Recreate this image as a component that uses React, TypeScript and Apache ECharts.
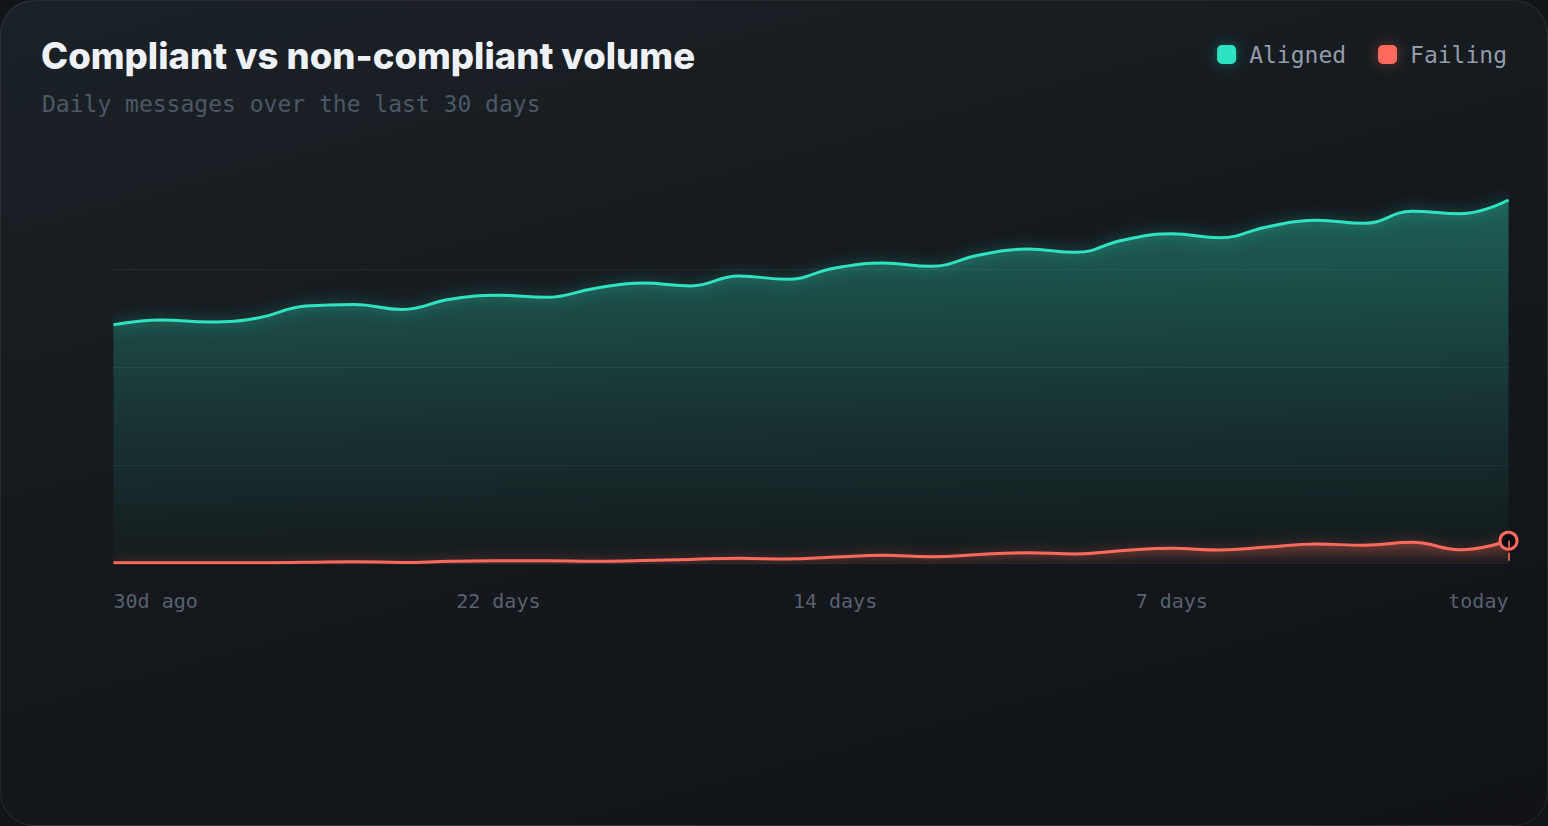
import { useEffect, useRef } from "react";
import * as echarts from "echarts";

const days = [
  "Day 1", "Day 2", "Day 3", "Day 4", "Day 5", "Day 6", "Day 7", "Day 8", "Day 9", "Day 10",
  "Day 11", "Day 12", "Day 13", "Day 14", "Day 15", "Day 16", "Day 17", "Day 18", "Day 19", "Day 20",
  "Day 21", "Day 22", "Day 23", "Day 24", "Day 25", "Day 26", "Day 27", "Day 28", "Day 29", "Day 30"
];

const aligned = [
  2432, 2480, 2459, 2500, 2622, 2638, 2587, 2691, 2732, 2711,
  2801, 2857, 2827, 2929, 2895, 3010, 3061, 3028, 3143, 3204,
  3170, 3296, 3360, 3319, 3432, 3497, 3466, 3589, 3564, 3704
];

const failing = [
  3, 2, 3, 3, 7, 13, 5, 17, 22, 23,
  17, 26, 36, 48, 41, 61, 79, 64, 87, 105,
  92, 128, 150, 133, 163, 194, 181, 211, 136, 227
];

const tickIndex = [0, 8, 15, 22, 29];
const tickText = ["30d ago", "22 days", "14 days", "7 days", "today"];

const MONO = "'DejaVu Sans Mono', monospace";
const TEAL = "#2ee3c1";
const CORAL = "#ff6a5c";

export default function App() {
  const chartRef = useRef<HTMLDivElement>(null);

  useEffect(() => {
    document.body.style.margin = "0";
    document.body.style.background = "#111418";
    if (!chartRef.current) return;
    const chart = echarts.init(chartRef.current, null, { renderer: "svg" });

    const last = failing.length - 1;

    chart.setOption({
      animation: false,
      title: [
        {
          text: "Compliant vs non-compliant volume",
          left: 36,
          top: 32,
          textStyle: {
            fontFamily: "Inter, sans-serif",
            fontWeight: 800,
            fontSize: 36.5,
            color: "#eef2f6"
          }
        },
        {
          text: "Daily messages over the last 30 days",
          left: 37,
          top: 87,
          textStyle: {
            fontFamily: MONO,
            fontWeight: "normal",
            fontSize: 23,
            color: "#4e5765"
          }
        }
      ],
      legend: {
        right: 36,
        top: 38,
        icon: "roundRect",
        itemWidth: 19,
        itemHeight: 19,
        itemGap: 32,
        textStyle: { fontFamily: MONO, fontSize: 23, color: "#939cab", padding: [0, 0, 0, 8] },
        data: [
          { name: "Aligned", itemStyle: { color: TEAL, shadowBlur: 14, shadowColor: "rgba(46,227,193,0.35)" } },
          { name: "Failing", itemStyle: { color: CORAL, shadowBlur: 14, shadowColor: "rgba(255,106,92,0.35)" } }
        ]
      },
      grid: { left: 113.5, right: 39.5, top: 171, bottom: 263 },
      xAxis: {
        type: "category",
        boundaryGap: false,
        data: days,
        axisLine: { show: false },
        axisTick: { show: false },
        splitLine: { show: false },
        axisLabel: {
          interval: (i: number) => tickIndex.includes(i),
          formatter: (_v: string, i: number) => tickText[tickIndex.indexOf(i)] ?? "",
          fontFamily: MONO,
          fontSize: 20,
          color: "#586170",
          margin: 28,
          alignMinLabel: "left",
          alignMaxLabel: "right"
        }
      },
      yAxis: {
        type: "value",
        min: 0,
        max: 4000,
        interval: 1000,
        axisLabel: { show: false },
        axisLine: { show: false },
        axisTick: { show: false },
        splitLine: {
          show: true,
          showMaxLine: false,
          lineStyle: { color: "rgba(255,255,255,0.06)", width: 1 }
        }
      },
      series: [
        {
          name: "Aligned",
          type: "line",
          data: aligned,
          smooth: 0.45,
          symbol: "none",
          itemStyle: { color: TEAL },
          lineStyle: {
            color: TEAL,
            width: 3,
            shadowBlur: 14,
            shadowColor: "rgba(46,227,193,0.55)"
          },
          areaStyle: {
            color: new echarts.graphic.LinearGradient(0, 0, 0, 1, [
              { offset: 0, color: "rgba(46,227,193,0.5)" },
              { offset: 0.6, color: "rgba(46,227,193,0.18)" },
              { offset: 1, color: "rgba(46,227,193,0.02)" }
            ])
          },
          z: 2
        },
        {
          name: "Failing",
          type: "line",
          smooth: 0.45,
          symbol: "none",
          data: failing.map((v, i) =>
            i === last
              ? {
                  value: v,
                  symbol: "circle",
                  symbolSize: 17,
                  itemStyle: { color: "#0b0d10", borderColor: CORAL, borderWidth: 3 }
                }
              : v
          ),
          itemStyle: { color: CORAL },
          lineStyle: {
            color: CORAL,
            width: 3,
            shadowBlur: 12,
            shadowColor: "rgba(255,106,92,0.5)"
          },
          areaStyle: {
            color: new echarts.graphic.LinearGradient(0, 0, 0, 1, [
              { offset: 0, color: "rgba(255,106,92,0.45)" },
              { offset: 1, color: "rgba(255,106,92,0.05)" }
            ])
          },
          markLine: {
            silent: true,
            symbol: "none",
            label: { show: false },
            lineStyle: { color: CORAL, type: "dashed", width: 2, opacity: 0.8 },
            data: [[{ coord: [days[last], failing[last]] }, { coord: [days[last], 0] }]]
          },
          z: 3
        }
      ]
    });

    return () => {
      chart.dispose();
    };
  }, []);

  return (
    <div
      style={{
        width: 1548,
        height: 826,
        boxSizing: "border-box",
        borderRadius: 34,
        border: "1.5px solid rgba(255,255,255,0.09)",
        background: "linear-gradient(165deg, #1b2227 0%, #15191d 45%, #101216 100%)",
        overflow: "hidden",
        position: "relative"
      }}
    >
      <div ref={chartRef} style={{ position: "absolute", left: -1.5, top: -1.5, width: 1548, height: 826 }} />
    </div>
  );
}
